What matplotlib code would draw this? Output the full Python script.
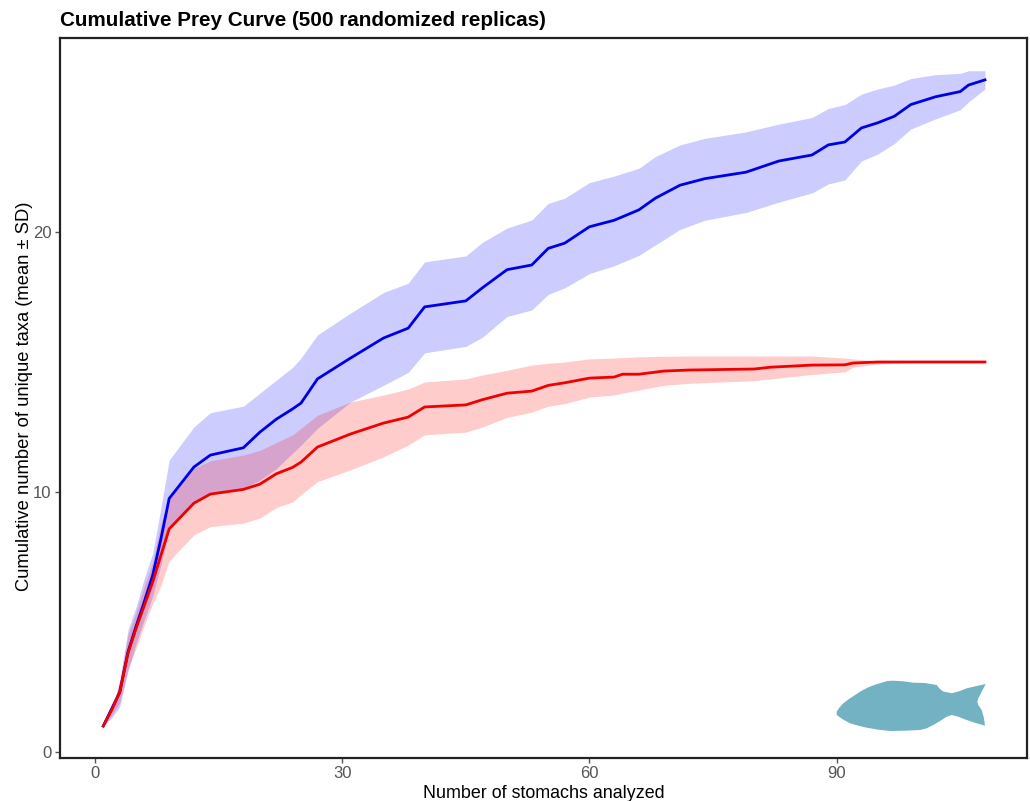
import numpy as np
import matplotlib.pyplot as plt
from matplotlib.patches import Polygon

plt.rcParams['font.family'] = ['Liberation Sans', 'DejaVu Sans']

# Datos
x_blue = [1, 2, 3, 4, 5, 6, 7, 8, 9, 12, 14, 18, 20, 22, 24, 25, 27, 31, 35, 38, 40, 45, 47, 50, 53, 55, 57,
          60, 63, 66, 68, 71, 74, 79, 83, 87, 89, 91, 93, 95, 97, 99, 102, 105, 106, 108]
blue_mean = [1, 1.65, 2.3, 3.85, 4.85, 5.8, 6.8, 8.2, 9.75, 10.96, 11.42, 11.7, 12.3, 12.8, 13.2,
             13.42, 14.35, 15.15, 15.92, 16.3, 17.12, 17.35, 17.85, 18.55, 18.73, 19.37, 19.57, 20.2, 20.45,
             20.85, 21.3, 21.8, 22.05, 22.3, 22.73, 22.96, 23.35, 23.46, 24.0, 24.2, 24.45, 24.9, 25.2, 25.4,
             25.65, 25.85]
blue_up = [1, 1.5, 2.75, 4.7, 5.6, 6.7, 7.65, 9.4, 11.23, 12.5, 13.05, 13.3, 13.8, 14.3, 14.8,
           15.15, 16.04, 16.88, 17.67, 18.03, 18.85, 19.08, 19.6, 20.15, 20.46, 21.1, 21.3, 21.9, 22.15,
           22.45, 22.9, 23.35, 23.6, 23.85, 24.15, 24.4, 24.75, 24.9, 25.3, 25.5, 25.65, 25.9, 26.05, 26.1,
           26.2, 26.2]
blue_low = [1, 1.3, 1.75, 3.1, 4.2, 5.1, 6.0, 7.2, 8.55, 9.6, 9.95, 10.15, 10.45, 10.9, 11.5,
            11.8, 12.45, 13.46, 14.1, 14.6, 15.35, 15.6, 15.95, 16.75, 17.0, 17.6, 17.85, 18.4, 18.7,
            19.1, 19.5, 20.1, 20.45, 20.75, 21.15, 21.5, 21.85, 22.0, 22.73, 23.0, 23.4, 23.96, 24.35, 24.7,
            25.0, 25.5]

x_red = [1, 2, 3, 4, 5, 6, 7, 8, 9, 12, 14, 18, 20, 22, 24, 25, 27, 31, 35, 38, 40, 45, 47, 50, 53, 55, 57,
         60, 63, 64, 66, 69, 72, 80, 82, 87, 91, 92, 95, 100, 108]
red_mean = [1, 1.6, 2.3, 3.8, 4.77, 5.65, 6.54, 7.57, 8.58, 9.57, 9.92, 10.1, 10.3, 10.7, 10.95,
            11.15, 11.73, 12.23, 12.65, 12.88, 13.27, 13.35, 13.55, 13.8, 13.88, 14.1, 14.2, 14.38, 14.42,
            14.53, 14.53, 14.65, 14.69, 14.73, 14.8, 14.88, 14.89, 14.96, 15, 15, 15]
red_up = [1, 1.6, 2.75, 4.5, 5.4, 6.4, 7.3, 8.8, 9.75, 10.9, 11.2, 11.42, 11.6, 11.9, 12.2,
          12.45, 12.95, 13.46, 13.73, 13.96, 14.23, 14.35, 14.5, 14.68, 14.88, 14.95, 15.0, 15.12, 15.15,
          15.17, 15.2, 15.22, 15.23, 15.23, 15.23, 15.23, 15.15, 15.12, 15.04, 15.0, 15.0]
red_low = [1, 1.4, 1.9, 3.2, 4.0, 4.9, 5.7, 6.4, 7.35, 8.35, 8.67, 8.8, 9.0, 9.4, 9.62,
           9.9, 10.4, 10.85, 11.35, 11.8, 12.2, 12.3, 12.5, 12.87, 13.07, 13.3, 13.4, 13.65, 13.73,
           13.8, 13.92, 14.1, 14.18, 14.28, 14.35, 14.52, 14.62, 14.8, 14.92, 15, 15]

# Silueta del pez en pixeles de la imagen
fish_px = [836.7, 839.3, 843.3, 849, 855, 861.7, 868.3, 875, 881.7, 887.3, 893.3, 903.3, 913.3, 925, 936.7,
           939.3, 942.7, 951.7, 960, 966.7, 976.7, 985.7, 981.7, 978.3, 977.3, 978.3, 981.7, 984, 985, 976.7,
           966.7, 958.3, 951.7, 946.7, 941.7, 933.3, 926.7, 920, 905, 890, 878.3, 866.7, 858.3, 850, 842.7,
           836.7]
fish_py = [711.7, 707.7, 703.3, 699, 695, 690.7, 687.3, 684.7, 682.7, 681, 680.7, 681.3, 682.7, 683, 685,
           688.3, 691.3, 693.3, 691, 688.3, 686, 684, 691.7, 698.3, 701.7, 705, 710, 718.3, 725.7, 723.3,
           720, 716.7, 715, 716.7, 720, 725, 728.3, 730, 730.7, 731, 729.7, 727.7, 725.7, 723.3, 719.3, 715]

W, H = 1030, 801
fig = plt.figure(figsize=(W/100, H/100), dpi=100)
ax = fig.add_axes([60/W, 1-758/H, (1027-60)/W, (758-38)/H])

ax.fill_between(x_blue, blue_low, blue_up, color='blue', alpha=0.2, lw=0)
ax.fill_between(x_red, red_low, red_up, color='red', alpha=0.2, lw=0)
ax.plot(x_blue, blue_mean, color='#0000e6', lw=2.0)
ax.plot(x_red, red_mean, color='#f00000', lw=2.0)

ax.set_xlim(-4.25, 113.1)
ax.set_ylim(-0.23, 27.46)
ax.set_xticks([0, 30, 60, 90])
ax.set_yticks([0, 10, 20])
ax.tick_params(labelsize=12, colors='#555555', length=3.5, width=1, pad=2.5)
ax.set_xlabel("Number of stomachs analyzed", fontsize=12.9, labelpad=2.5)
ax.set_ylabel("Cumulative number of unique taxa (mean ± SD)", fontsize=13.2, labelpad=0)
ax.yaxis.set_label_coords((33-60)/(1027-60), (758-396)/(758-38))
for s in ax.spines.values():
    s.set_linewidth(1.6)
    s.set_color('#222222')

fig.text(60/W, 1-21/H, "Cumulative Prey Curve (500 randomized replicas)", fontsize=14.9,
         fontweight='bold', va='center', ha='left')

pts = np.column_stack([np.array(fish_px)/W, 1-np.array(fish_py)/H])
fig.add_artist(Polygon(pts, closed=True, transform=fig.transFigure, facecolor='#73b2c2', edgecolor='none'))

fig.savefig('out.png', dpi=100)
